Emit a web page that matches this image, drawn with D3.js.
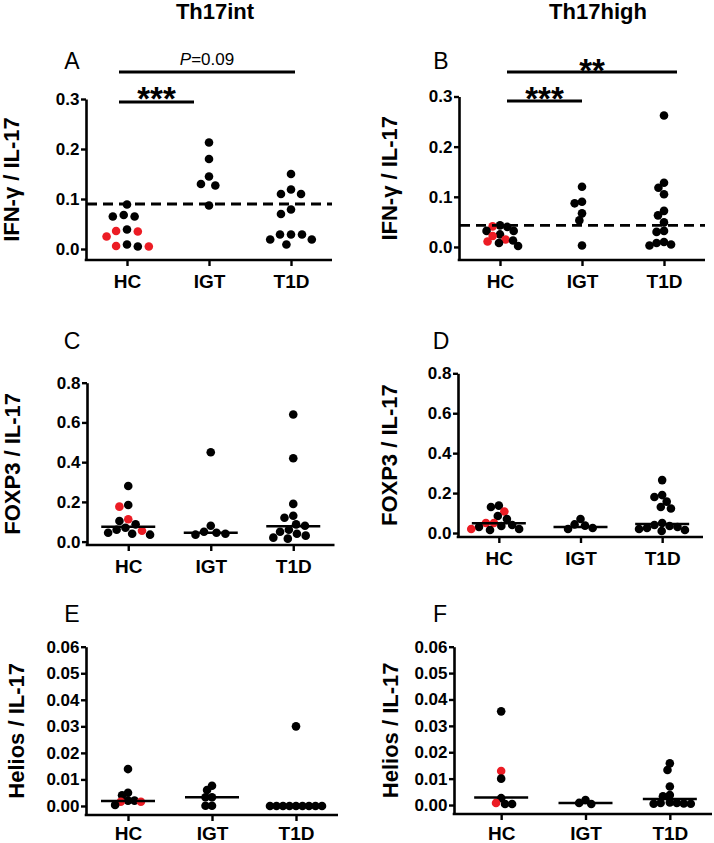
<!DOCTYPE html>
<html><head><meta charset="utf-8">
<script src="https://cdn.jsdelivr.net/npm/d3@7"></script>
<style>
body{margin:0;background:#fff;}
svg{display:block;font-family:"Liberation Sans",Arial,Helvetica,sans-serif;}
</style></head><body>
<svg id="chart" width="714" height="843"></svg>
<script>
// ---------------- DATA ----------------
const categories = ["HC", "IGT", "T1D"];
const columnTitles = ["Th17int", "Th17high"];
const panelLetters = ["A", "B", "C", "D", "E", "F"];
const yTitles = ["IFN-γ / IL-17", "IFN-γ / IL-17", "FOXP3 / IL-17", "FOXP3 / IL-17", "Helios / IL-17", "Helios / IL-17"];

const ticksIFN = [0, 0.1, 0.2, 0.3];
const ticksFOXP3 = [0, 0.2, 0.4, 0.6, 0.8];
const ticksHelios = [0, 0.01, 0.02, 0.03, 0.04, 0.05, 0.06];

// A: Th17int IFN-g / IL-17
const hcBlackA = [0.068, 0.065, 0.065, 0.089, 0.039, 0.005, 0.009];
const hcRedA = [0.036, 0.035, 0.025, 0.006, 0.005];
const igtA = [0.213, 0.180, 0.145, 0.130, 0.127, 0.087];
const t1dA = [0.150, 0.119, 0.110, 0.110, 0.079, 0.070, 0.029, 0.029, 0.029, 0.019, 0.019, 0.009];
const cutoffA = 0.09;
const sigA = [{from: "HC", to: "IGT", label: "***"}, {from: "HC", to: "T1D", label: "P=0.09"}];

// B: Th17high IFN-g / IL-17
const hcBlackB = [0.043, 0.040, 0.032, 0.032, 0.025, 0.013, 0.008, 0.002];
const hcRedB = [0.041, 0.022, 0.015, 0.011];
const igtB = [0.120, 0.090, 0.087, 0.067, 0.053, 0.003];
const t1dB = [0.262, 0.128, 0.118, 0.105, 0.072, 0.063, 0.049, 0.032, 0.030, 0.010, 0.008, 0.005, 0.003];
const cutoffB = 0.043;
const sigB = [{from: "HC", to: "IGT", label: "***"}, {from: "HC", to: "T1D", label: "**"}];

// C: Th17int FOXP3 / IL-17
const hcBlackC = [0.280, 0.184, 0.104, 0.087, 0.070, 0.060, 0.045, 0.040, 0.035];
const hcRedC = [0.176, 0.113, 0.055];
const igtC = [0.450, 0.080, 0.050, 0.045, 0.040, 0.035];
const t1dC = [0.640, 0.420, 0.190, 0.130, 0.120, 0.087, 0.080, 0.060, 0.050, 0.040, 0.030, 0.020, 0.015];
const mediansC = [0.075, 0.045, 0.078];

// D: Th17high FOXP3 / IL-17
const hcBlackD = [0.137, 0.130, 0.085, 0.070, 0.040, 0.035, 0.030, 0.020, 0.015];
const hcRedD = [0.108, 0.050, 0.050, 0.020];
const igtD = [0.070, 0.043, 0.037, 0.025, 0.020];
const t1dD = [0.265, 0.190, 0.180, 0.157, 0.130, 0.123, 0.050, 0.040, 0.035, 0.030, 0.025, 0.020, 0.015, 0.010];
const mediansD = [0.049, 0.030, 0.045];

// E: Th17int Helios / IL-17
const hcBlackE = [0.0139, 0.0050, 0.0040, 0.0020, 0.0020, 0.0004];
const hcRedE = [0.0016, 0.0016];
const igtE = [0.0076, 0.0060, 0.0033, 0.0033, 0.0001, 0.0001];
const t1dE = [0.0300, 0, 0, 0, 0, 0, 0, 0, 0, 0];
const mediansE = [0.0019, 0.0033, 0];

// F: Th17high Helios / IL-17
const hcBlackF = [0.0355, 0.0100, 0.0026, 0.0004, 0.0004];
const hcRedF = [0.0129, 0.0008];
const igtF = [0.0019, 0.0008, 0.0004];
const t1dF = [0.0158, 0.0133, 0.0070, 0.0038, 0.0033, 0.0010, 0.0008, 0.0008, 0.0006, 0.0005, 0.0005];
const mediansF = [0.0029, 0.0008, 0.0023];

// ---------------- LAYOUT ----------------
const RED = "#ec1c24";
const svg = d3.select("#chart");

const panels = [
  {hcB: hcBlackA, hcR: hcRedA, igt: igtA, t1d: t1dA, cutoff: cutoffA, sig: sigA, ticks: ticksIFN, fmt: ".1f",
   yAxisX: 86, xRange: [86, 332], lineEnd: 332, yDomain: [-0.022, 0.3], yRange: [260, 99], D: 11, xPad: 8.5,
   letterX: 72, letterY: 69, titleX: 19,
   sigLayout: [{y: 102, x0: -8, x1: -15, ty: 110}, {y: 72, x0: -8, x1: 4, ty: 65}]},
  {hcB: hcBlackB, hcR: hcRedB, igt: igtB, t1d: t1dB, cutoff: cutoffB, sig: sigB, ticks: ticksIFN, fmt: ".1f",
   yAxisX: 459, xRange: [459, 705], lineEnd: 705, yDomain: [-0.026, 0.3], yRange: [260, 96.5], D: 7.5, xPad: 8.5,
   letterX: 441, letterY: 69, titleX: 397,
   sigLayout: [{y: 101, x0: 7, x1: 0, ty: 110}, {y: 72, x0: 7, x1: 13, ty: 82}]},
  {hcB: hcBlackC, hcR: hcRedC, igt: igtC, t1d: t1dC, medians: mediansC, ticks: ticksFOXP3, fmt: ".1f",
   yAxisX: 87, xRange: [87, 334.5], lineEnd: 334.5, yDomain: [-0.017, 0.8], yRange: [545, 382.7], D: 9, xPad: 8.5,
   letterX: 72, letterY: 349, titleX: 20},
  {hcB: hcBlackD, hcR: hcRedD, igt: igtD, t1d: t1dD, medians: mediansD, ticks: ticksFOXP3, fmt: ".1f",
   yAxisX: 458, xRange: [458, 703], lineEnd: 703, yDomain: [-0.02, 0.8], yRange: [537, 373.3], D: 8, xPad: 8.5,
   letterX: 441, letterY: 349, titleX: 397},
  {hcB: hcBlackE, hcR: hcRedE, igt: igtE, t1d: t1dE, medians: mediansE, ticks: ticksHelios, fmt: ".2f",
   yAxisX: 86, xRange: [86, 338], lineEnd: 338, yDomain: [-0.0034, 0.06], yRange: [815, 646.7], D: 6.5, xPad: 6,
   letterX: 72, letterY: 622, titleX: 24},
  {hcB: hcBlackF, hcR: hcRedF, igt: igtF, t1d: t1dF, medians: mediansF, ticks: ticksHelios, fmt: ".2f",
   yAxisX: 454, xRange: [459, 712], lineEnd: 712, yDomain: [-0.0034, 0.06], yRange: [814, 646.7], D: 7, xPad: 7,
   letterX: 440, letterY: 622, titleX: 398}
];

// column titles
svg.selectAll("text.coltitle").data(columnTitles).join("text")
  .attr("class", "coltitle")
  .attr("x", (d, i) => [215, 598][i]).attr("y", 18.5)
  .attr("text-anchor", "middle").attr("font-size", 22).attr("font-weight", "bold")
  .text(d => d);

function swarm(points, cx, y, D) {
  const placed = [];
  const sorted = points.slice().sort((a, b) => b.v - a.v);
  for (const p of sorted) {
    const py = y(p.v);
    const cands = [0];
    for (const q of placed) {
      const dy = Math.abs(q.py - py);
      if (dy < D) { const dx = Math.sqrt(D * D - dy * dy); cands.push(q.dx + dx, q.dx - dx); }
    }
    cands.sort((a, b) => Math.abs(a) - Math.abs(b) || a - b);
    let best = 0;
    for (const c of cands) {
      if (placed.every(q => { const ddx = q.dx - c, ddy = q.py - py; return ddx * ddx + ddy * ddy >= D * D - 0.01; })) { best = c; break; }
    }
    placed.push(Object.assign({}, p, {py: py, dx: best}));
  }
  return placed.map(p => Object.assign(p, {cx: cx + p.dx}));
}

panels.forEach((cfg, i) => {
  const g = svg.append("g");
  const x = d3.scalePoint().domain(categories).range(cfg.xRange).padding(0.5);
  const y = d3.scaleLinear().domain(cfg.yDomain).range(cfg.yRange);

  // y axis
  const ya = d3.axisLeft(y).tickValues(cfg.ticks).tickFormat(d3.format(cfg.fmt))
    .tickSize(5).tickSizeOuter(0).tickPadding(1.5);
  const yg = g.append("g").attr("transform", `translate(${cfg.yAxisX},0)`).call(ya);
  yg.select(".domain").attr("stroke-width", 2.6);
  yg.selectAll(".tick line").attr("stroke-width", 2.4);
  yg.selectAll(".tick text").attr("font-size", 17).attr("font-weight", "bold")
    .attr("font-family", "'Liberation Sans', Arial, sans-serif").attr("fill", "#000");

  // x axis
  const xa = d3.axisBottom(x).tickSize(6).tickPadding(cfg.xPad);
  const axisY = cfg.yRange[0];
  const xg = g.append("g").attr("transform", `translate(0,${axisY})`).call(xa);
  xg.select(".domain").remove();
  xg.selectAll(".tick line").attr("stroke-width", 2.4);
  xg.selectAll(".tick text").attr("font-size", 19).attr("font-weight", "bold")
    .attr("font-family", "'Liberation Sans', Arial, sans-serif").attr("fill", "#000");
  g.append("line").attr("x1", cfg.yAxisX - 1.3).attr("x2", cfg.lineEnd)
    .attr("y1", axisY).attr("y2", axisY).attr("stroke", "#000").attr("stroke-width", 2.6);

  // y title
  const yMid = (cfg.yRange[0] + cfg.yRange[1]) / 2;
  g.append("text").attr("transform", `translate(${cfg.titleX},${yMid}) rotate(-90)`)
    .attr("text-anchor", "middle").attr("font-size", 22).attr("font-weight", "bold")
    .text(yTitles[i]);

  // panel letter
  g.append("text").attr("x", cfg.letterX).attr("y", cfg.letterY).attr("text-anchor", "middle")
    .attr("font-size", 23).text(panelLetters[i]);

  // points
  const groups = [
    {cat: "HC", pts: cfg.hcB.map(v => ({v, red: false})).concat(cfg.hcR.map(v => ({v, red: true})))},
    {cat: "IGT", pts: cfg.igt.map(v => ({v, red: false}))},
    {cat: "T1D", pts: cfg.t1d.map(v => ({v, red: false}))}
  ];
  groups.forEach(gr => {
    const laid = swarm(gr.pts, x(gr.cat), y, cfg.D);
    g.append("g").selectAll("circle").data(laid).join("circle")
      .attr("cx", d => d.cx).attr("cy", d => d.py).attr("r", 4.3)
      .attr("fill", d => d.red ? RED : "#000");
  });

  // medians
  if (cfg.medians) {
    g.append("g").selectAll("line").data(cfg.medians).join("line")
      .attr("x1", (d, j) => x(categories[j]) - 27).attr("x2", (d, j) => x(categories[j]) + 27)
      .attr("y1", d => y(d)).attr("y2", d => y(d)).attr("stroke", "#000").attr("stroke-width", 2.5);
  }

  // cutoff dashed line
  if (cfg.cutoff !== undefined) {
    g.append("line").attr("x1", cfg.yAxisX + 1).attr("x2", cfg.lineEnd)
      .attr("y1", y(cfg.cutoff)).attr("y2", y(cfg.cutoff))
      .attr("stroke", "#000").attr("stroke-width", 2.8).attr("stroke-dasharray", "10,6");
  }

  // significance bars
  if (cfg.sig) {
    cfg.sig.forEach((s, k) => {
      const L = cfg.sigLayout[k];
      const xa0 = x(s.from) + L.x0, xa1 = x(s.to) + L.x1;
      g.append("line").attr("x1", xa0).attr("x2", xa1).attr("y1", L.y).attr("y2", L.y)
        .attr("stroke", "#000").attr("stroke-width", 3);
      const t = g.append("text").attr("x", (xa0 + xa1) / 2).attr("y", L.ty).attr("text-anchor", "middle");
      if (s.label.startsWith("P=")) {
        t.attr("font-size", 17);
        t.append("tspan").attr("font-style", "italic").text("P");
        t.append("tspan").text(s.label.slice(1));
      } else {
        t.attr("font-size", 33).attr("font-weight", "bold").text(s.label);
      }
    });
  }
});
</script>
</body></html>
